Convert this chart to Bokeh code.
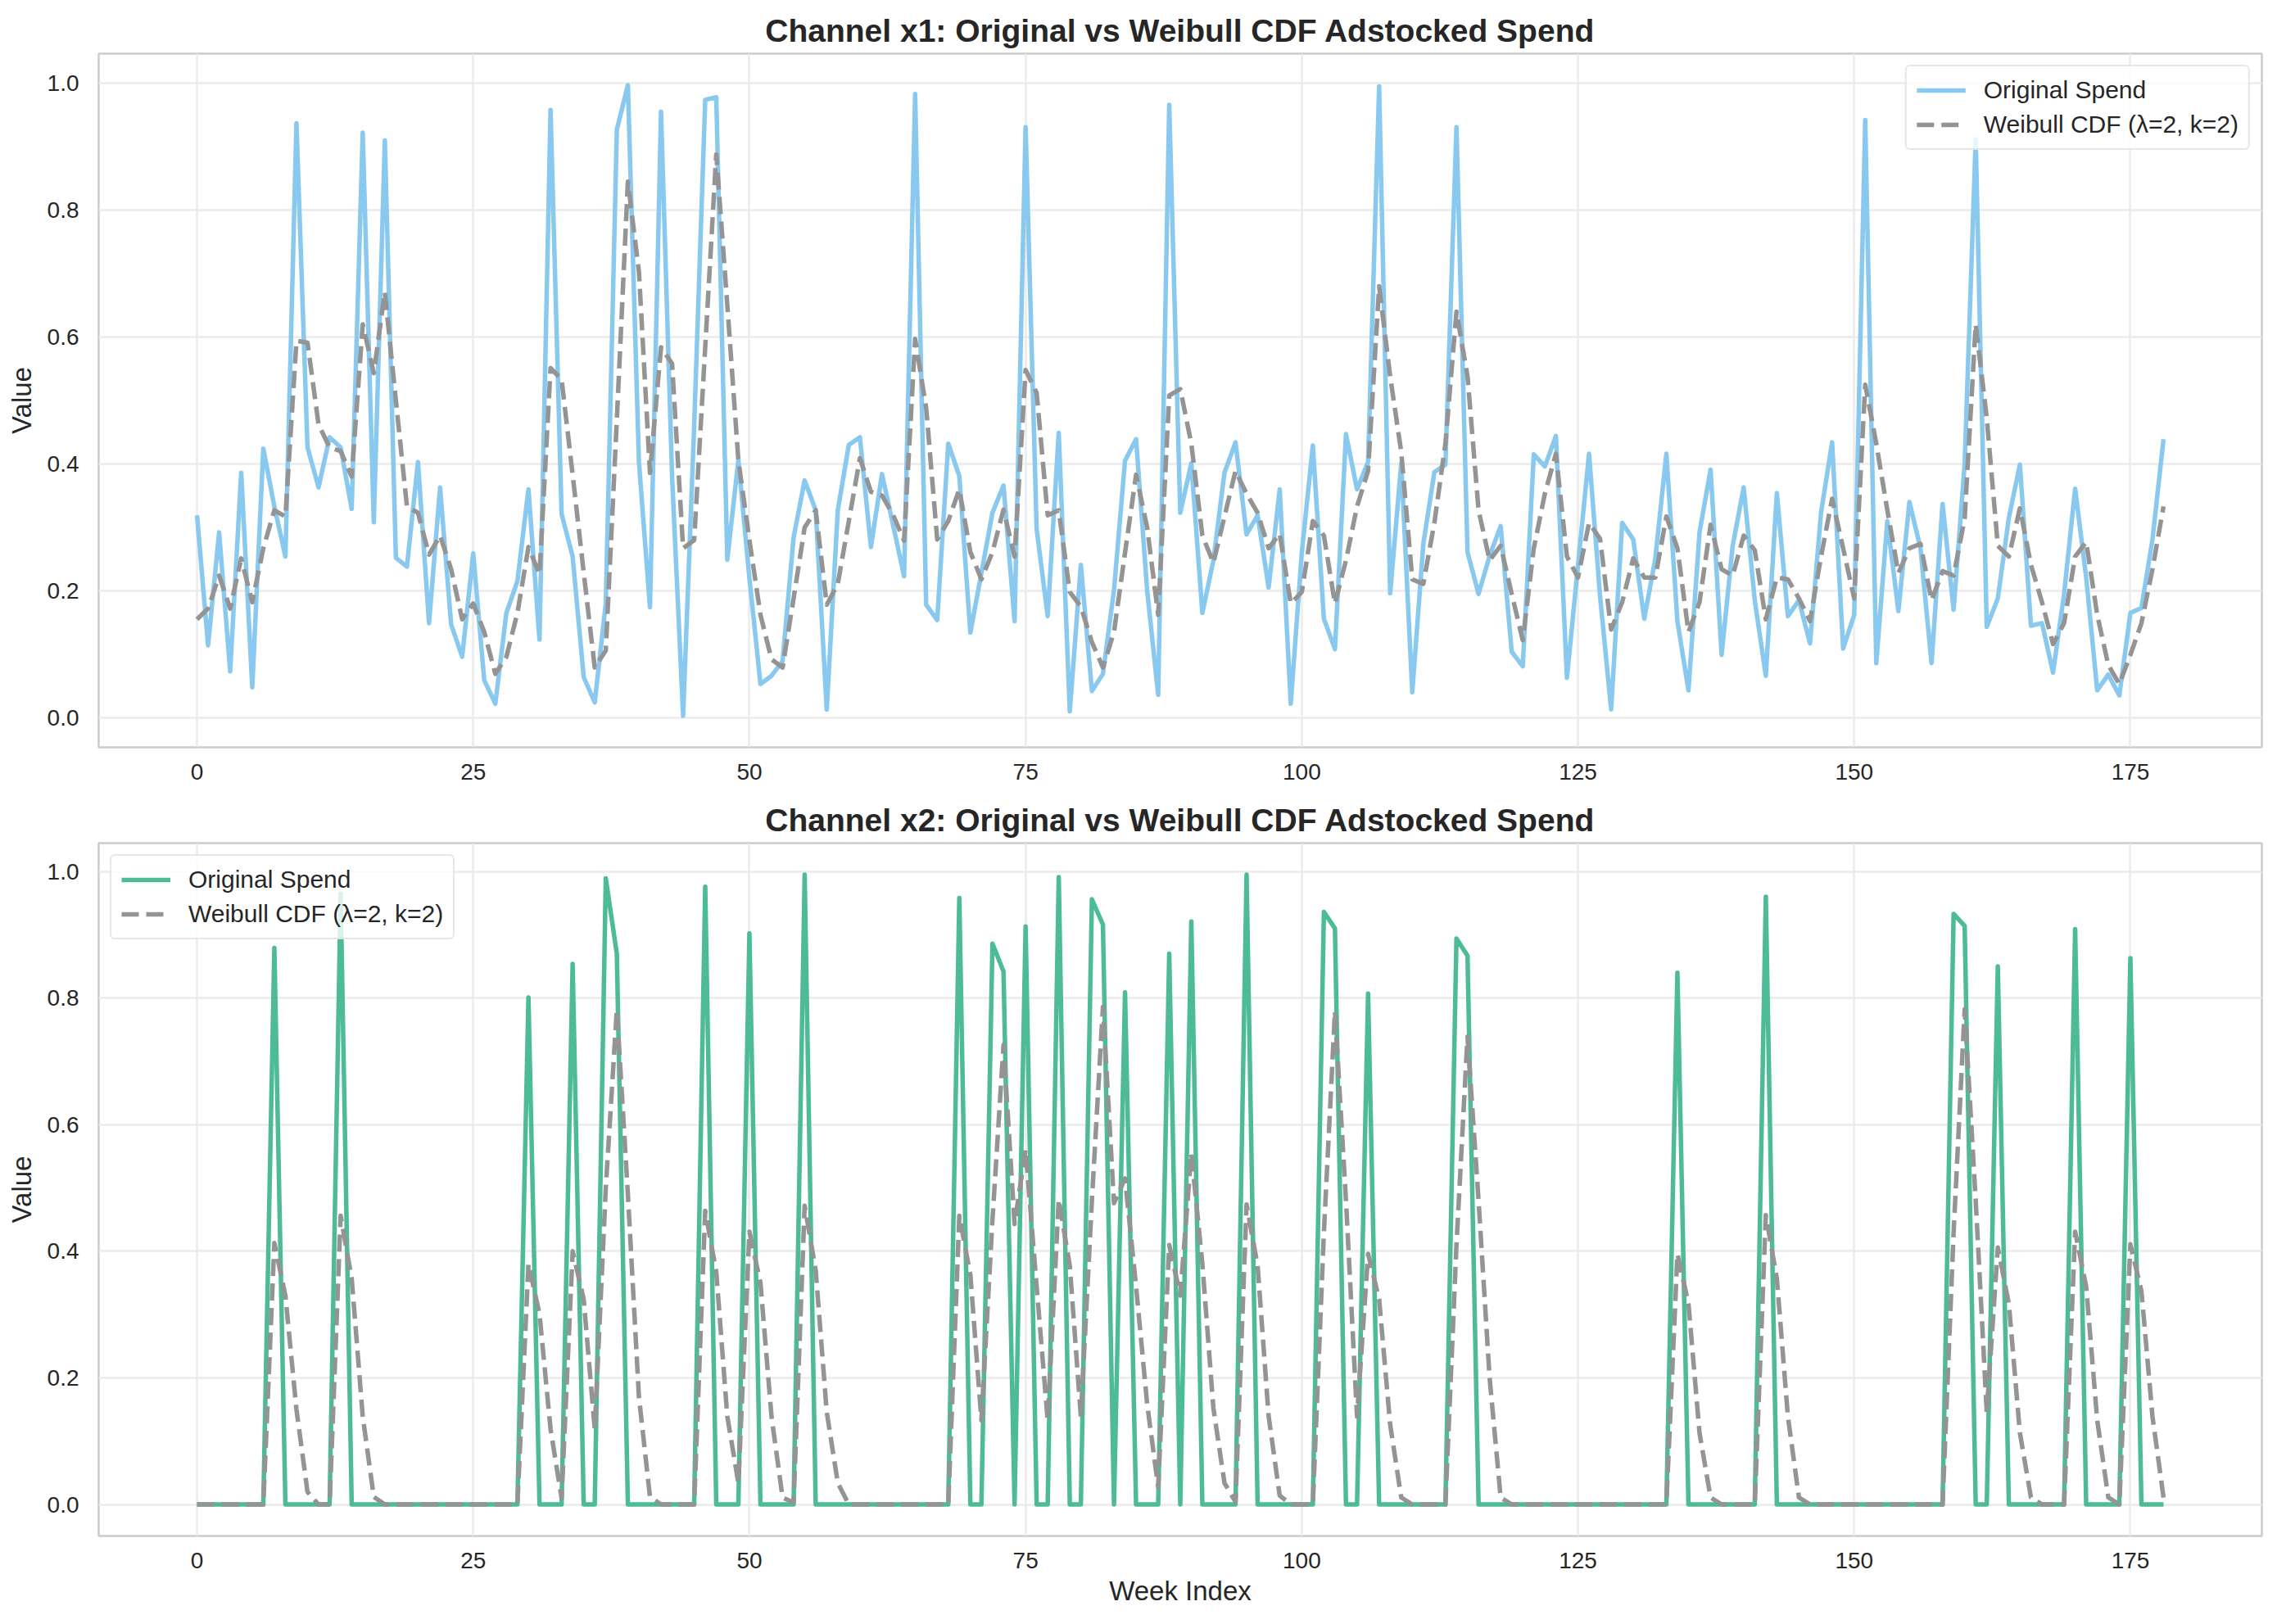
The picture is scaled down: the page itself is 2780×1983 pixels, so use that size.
from bokeh.plotting import figure
from bokeh.layouts import column
from bokeh.models import Range1d, FixedTicker, NumeralTickFormatter
from bokeh.embed import file_html
from bokeh.resources import INLINE

# ---------------- data ----------------
x1_original = [
    0.319, 0.114, 0.292, 0.073, 0.386, 0.048, 0.424, 0.333, 0.254, 0.937,
    0.426, 0.363, 0.442, 0.426, 0.329, 0.922, 0.308, 0.910, 0.252, 0.238,
    0.403, 0.149, 0.363, 0.147, 0.096, 0.259, 0.059, 0.022, 0.165, 0.215,
    0.360, 0.123, 0.958, 0.321, 0.254, 0.064, 0.024, 0.180, 0.927, 0.997,
    0.403, 0.174, 0.955, 0.380, 0.003, 0.460, 0.974, 0.978, 0.249, 0.406,
    0.220, 0.053, 0.066, 0.089, 0.284, 0.374, 0.327, 0.013, 0.327, 0.430,
    0.442, 0.269, 0.384, 0.304, 0.223, 0.983, 0.178, 0.154, 0.432, 0.381,
    0.134, 0.228, 0.323, 0.366, 0.152, 0.931, 0.297, 0.160, 0.449, 0.010,
    0.241, 0.042, 0.069, 0.201, 0.405, 0.439, 0.201, 0.036, 0.966, 0.323,
    0.401, 0.165, 0.248, 0.386, 0.434, 0.289, 0.319, 0.205, 0.360, 0.022,
    0.260, 0.429, 0.156, 0.108, 0.447, 0.360, 0.403, 0.995, 0.196, 0.401,
    0.040, 0.274, 0.387, 0.399, 0.931, 0.261, 0.195, 0.255, 0.302, 0.104,
    0.081, 0.415, 0.396, 0.444, 0.063, 0.240, 0.416, 0.191, 0.013, 0.307,
    0.281, 0.156, 0.251, 0.416, 0.152, 0.043, 0.292, 0.391, 0.099, 0.271,
    0.363, 0.185, 0.066, 0.354, 0.160, 0.185, 0.117, 0.323, 0.434, 0.109,
    0.162, 0.942, 0.086, 0.310, 0.168, 0.340, 0.267, 0.086, 0.337, 0.170,
    0.400, 0.911, 0.143, 0.188, 0.315, 0.399, 0.145, 0.149, 0.071, 0.195,
    0.361, 0.221, 0.043, 0.068, 0.035, 0.165, 0.173, 0.281, 0.439,
]

x1_adstocked = [
    0.155, 0.172, 0.224, 0.172, 0.251, 0.182, 0.267, 0.327, 0.317, 0.594,
    0.591, 0.462, 0.426, 0.420, 0.380, 0.620, 0.543, 0.671, 0.500, 0.333,
    0.323, 0.257, 0.287, 0.234, 0.155, 0.180, 0.135, 0.069, 0.096, 0.165,
    0.269, 0.226, 0.551, 0.533, 0.383, 0.229, 0.079, 0.106, 0.470, 0.845,
    0.703, 0.386, 0.584, 0.558, 0.267, 0.280, 0.584, 0.888, 0.650, 0.406,
    0.280, 0.162, 0.092, 0.079, 0.188, 0.300, 0.327, 0.178, 0.211, 0.310,
    0.409, 0.356, 0.350, 0.320, 0.279, 0.597, 0.488, 0.281, 0.310, 0.360,
    0.261, 0.218, 0.261, 0.328, 0.254, 0.548, 0.512, 0.319, 0.327, 0.198,
    0.175, 0.119, 0.079, 0.135, 0.260, 0.383, 0.300, 0.162, 0.508, 0.518,
    0.432, 0.287, 0.244, 0.317, 0.389, 0.353, 0.323, 0.267, 0.290, 0.180,
    0.198, 0.310, 0.287, 0.180, 0.248, 0.333, 0.389, 0.680, 0.538, 0.419,
    0.218, 0.211, 0.307, 0.432, 0.640, 0.538, 0.327, 0.248, 0.271, 0.195,
    0.122, 0.267, 0.353, 0.416, 0.254, 0.221, 0.307, 0.282, 0.139, 0.182,
    0.251, 0.221, 0.221, 0.317, 0.267, 0.135, 0.182, 0.304, 0.234, 0.224,
    0.287, 0.264, 0.155, 0.221, 0.218, 0.188, 0.152, 0.254, 0.345, 0.267,
    0.188, 0.525, 0.432, 0.327, 0.228, 0.267, 0.274, 0.185, 0.231, 0.224,
    0.314, 0.620, 0.472, 0.271, 0.254, 0.330, 0.241, 0.182, 0.116, 0.149,
    0.254, 0.277, 0.162, 0.083, 0.053, 0.099, 0.149, 0.234, 0.333,
]

x2_original = [
    0, 0, 0, 0, 0, 0, 0, 0.879, 0, 0,
    0, 0, 0, 0.965, 0, 0, 0, 0, 0, 0,
    0, 0, 0, 0, 0, 0, 0, 0, 0, 0,
    0.801, 0, 0, 0, 0.854, 0, 0, 0.989, 0.870, 0,
    0, 0, 0, 0, 0, 0, 0.976, 0, 0, 0,
    0.902, 0, 0, 0, 0, 0.995, 0, 0, 0, 0,
    0, 0, 0, 0, 0, 0, 0, 0, 0, 0.958,
    0, 0, 0.886, 0.842, 0, 0.913, 0, 0, 0.991, 0,
    0, 0.956, 0.916, 0, 0.809, 0, 0, 0, 0.870, 0,
    0.921, 0, 0, 0, 0, 0.995, 0, 0, 0, 0,
    0, 0, 0.936, 0.910, 0, 0, 0.807, 0, 0, 0,
    0, 0, 0, 0, 0.894, 0.867, 0, 0, 0, 0,
    0, 0, 0, 0, 0, 0, 0, 0, 0, 0,
    0, 0, 0, 0, 0.840, 0, 0, 0, 0, 0,
    0, 0, 0.960, 0, 0, 0, 0, 0, 0, 0,
    0, 0, 0, 0, 0, 0, 0, 0, 0, 0.933,
    0.914, 0, 0, 0.850, 0, 0, 0, 0, 0, 0,
    0.909, 0, 0, 0, 0, 0.863, 0, 0, 0,
]

x2_adstocked = [
    0, 0, 0, 0, 0, 0, 0, 0.413, 0.330, 0.150,
    0.020, 0, 0, 0.456, 0.357, 0.139, 0.012, 0, 0, 0,
    0, 0, 0, 0, 0, 0, 0, 0, 0, 0,
    0.380, 0.301, 0.119, 0.010, 0.400, 0.324, 0.119, 0.500, 0.782, 0.490,
    0.170, 0.012, 0, 0, 0, 0, 0.464, 0.367, 0.139, 0.034,
    0.431, 0.350, 0.139, 0.011, 0.003, 0.472, 0.370, 0.146, 0.034, 0,
    0, 0, 0, 0, 0, 0, 0, 0, 0, 0.456,
    0.363, 0.133, 0.450, 0.726, 0.443, 0.561, 0.344, 0.133, 0.482, 0.377,
    0.139, 0.480, 0.786, 0.476, 0.515, 0.344, 0.159, 0.027, 0.410, 0.330,
    0.555, 0.380, 0.152, 0.034, 0.004, 0.474, 0.377, 0.139, 0.014, 0,
    0, 0, 0.430, 0.779, 0.480, 0.139, 0.396, 0.324, 0.126, 0.011,
    0, 0, 0, 0, 0.410, 0.739, 0.480, 0.200, 0.011, 0,
    0, 0, 0, 0, 0, 0, 0, 0, 0, 0,
    0, 0, 0, 0, 0.396, 0.317, 0.113, 0.011, 0, 0,
    0, 0, 0.457, 0.357, 0.139, 0.011, 0, 0, 0, 0,
    0, 0, 0, 0, 0, 0, 0, 0, 0, 0.430,
    0.782, 0.480, 0.146, 0.406, 0.317, 0.113, 0.011, 0, 0, 0,
    0.431, 0.344, 0.133, 0.011, 0, 0.411, 0.337, 0.139, 0.011,
]

x_ticks = [0, 25, 50, 75, 100, 125, 150, 175]
y_ticks = [0.0, 0.2, 0.4, 0.6, 0.8, 1.0]
label_original = "Original Spend"
label_adstock = "Weibull CDF (\u03bb=2, k=2)"
title_x1 = "Channel x1: Original vs Weibull CDF Adstocked Spend"
title_x2 = "Channel x2: Original vs Weibull CDF Adstocked Spend"

# ---------------- styling ----------------
FONT = "Liberation Sans"
TXT = "#262626"
GRID = "#ebebeb"
SPINE = "#cccccc"
BLUE = "#89c9ef"
GREEN = "#4dbb98"
GRAY = "#949494"


def make_fig(title, orig, ads, color, legend_loc, xlabel, height, b_top, b_bottom):
    n = len(orig)
    weeks = list(range(n))
    lo = min(min(orig), min(ads))
    hi = max(max(orig), max(ads))
    ypad = 0.05 * (hi - lo)
    xpad = 0.05 * (n - 1)
    p = figure(width=2772, height=height, output_backend="svg", toolbar_location=None,
               x_range=Range1d(-xpad, n - 1 + xpad), y_range=Range1d(lo - ypad, hi + ypad),
               min_border_left=120, min_border_right=11,
               min_border_top=b_top, min_border_bottom=b_bottom)
    p.background_fill_color = "white"
    p.border_fill_color = "white"
    p.outline_line_color = SPINE
    p.outline_line_width = 2.5

    p.title.text = title
    p.title.align = "center"
    p.title.text_font = FONT
    p.title.text_font_size = "39px"
    p.title.text_font_style = "bold"
    p.title.text_color = TXT
    p.title.standoff = 14

    p.xaxis.ticker = FixedTicker(ticks=x_ticks)
    p.yaxis.ticker = FixedTicker(ticks=y_ticks)
    p.yaxis.formatter = NumeralTickFormatter(format="0.0")
    for ax in (p.xaxis, p.yaxis):
        ax.axis_line_color = None
        ax.major_tick_line_color = None
        ax.minor_tick_line_color = None
        ax.major_label_text_font = FONT
        ax.major_label_text_font_size = "28px"
        ax.major_label_text_color = TXT
        ax.axis_label_text_font = FONT
        ax.axis_label_text_font_size = "33px"
        ax.axis_label_text_font_style = "normal"
        ax.axis_label_text_color = TXT
    p.yaxis.major_label_standoff = 18
    p.xaxis.major_label_standoff = 14
    p.yaxis.axis_label = "Value"
    p.yaxis.axis_label_standoff = 10
    if xlabel:
        p.xaxis.axis_label = xlabel
        p.xaxis.axis_label_standoff = 6

    p.xgrid.grid_line_color = GRID
    p.ygrid.grid_line_color = GRID
    p.xgrid.grid_line_width = 2.5
    p.ygrid.grid_line_width = 2.5

    p.line(weeks, orig, line_color=color, line_width=5.5, line_join="round",
           legend_label=label_original)
    p.line(weeks, ads, line_color=GRAY, line_width=5.5, line_dash="21 9",
           line_join="round", legend_label=label_adstock)

    lg = p.legend[0]
    lg.location = legend_loc
    lg.label_text_font = FONT
    lg.label_text_font_size = "30px"
    lg.label_text_color = TXT
    lg.glyph_width = 60
    lg.glyph_height = 32
    lg.label_height = 32
    lg.label_standoff = 22
    lg.padding = 12
    lg.spacing = 8
    lg.margin = 14
    lg.border_line_color = "#d0d0d0"
    lg.border_line_width = 2
    lg.background_fill_color = "white"
    lg.background_fill_alpha = 0.8
    try:
        lg.border_radius = 6
    except Exception:
        pass
    return p


p1 = make_fig(title_x1, x1_original, x1_adstocked, BLUE, "top_right", None, 970, 65, 58)
p2 = make_fig(title_x2, x2_original, x2_adstocked, GREEN, "top_left", "Week Index", 1005, 58, 100)

layout = column(p1, p2)
open("out.html", "w").write(file_html(layout, INLINE))
